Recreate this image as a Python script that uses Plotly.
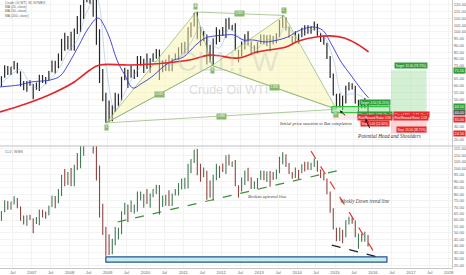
import pandas as pd
import plotly.graph_objects as go
from plotly.subplots import make_subplots

# ---------------- data (monthly) ----------------
dates = [d.strftime("%Y-%m-%d") for d in
         pd.date_range("2006-03-01", "2015-11-01", freq="MS") + pd.Timedelta(days=14)]

closes = [66.6, 71.9, 71.3, 74.0, 74.4, 70.3, 62.9, 58.7, 63.1, 61.0,
          58.1, 61.8, 65.9, 65.7, 64.0, 70.7, 78.2, 74.0, 81.7, 94.5, 88.7, 96.0,
          91.8, 101.8, 101.6, 113.5, 127.4, 140.0, 124.1, 115.5, 100.6, 67.8, 54.4, 44.6,
          41.7, 44.8, 49.7, 51.1, 66.3, 69.9, 69.5, 70.0, 70.6, 77.0, 77.3, 79.4,
          72.9, 79.7, 83.8, 86.2, 74.0, 75.6, 79.0, 71.9, 80.0, 81.4, 84.1, 91.4,
          92.2, 97.0, 106.7, 113.9, 102.7, 95.4, 95.7, 88.8, 79.2, 93.2, 100.4, 98.8,
          98.5, 107.1, 103.0, 104.9, 86.5, 85.0, 88.1, 96.5, 92.2, 86.2, 88.9, 91.8,
          97.5, 92.0, 97.2, 93.5, 92.0, 96.6, 105.0, 107.7, 102.3, 96.4, 92.7, 98.4,
          97.5, 102.6, 101.6, 99.7, 102.7, 105.4, 98.2, 96.0, 91.2, 80.5, 66.2, 53.3,
          48.2, 49.8, 47.6, 59.6, 60.3, 59.5, 47.1, 49.2, 45.1, 46.6, 40.0]
highs = [67.0, 75.2, 74.6, 74.0, 78.4, 77.0, 70.5, 63.5, 63.6, 64.0,
         61.3, 62.3, 68.1, 67.9, 66.5, 71.0, 78.8, 78.5, 83.9, 94.7, 99.3, 97.0,
         100.1, 102.6, 111.8, 119.9, 135.1, 143.7, 147.3, 127.0, 130.0, 102.0, 72.5, 54.7,
         49.0, 45.5, 54.7, 54.0, 66.7, 73.4, 72.0, 75.0, 72.0, 82.0, 82.0, 80.0,
         83.9, 80.5, 84.0, 87.2, 87.0, 79.0, 79.5, 83.0, 80.5, 84.0, 88.6, 92.0,
         92.6, 103.4, 106.9, 114.0, 114.8, 103.5, 100.6, 98.0, 90.5, 95.0, 103.4, 101.8,
         103.7, 110.0, 110.6, 105.0, 106.4, 86.8, 92.9, 98.3, 100.4, 93.0, 90.0, 92.5,
         98.2, 98.0, 97.5, 97.8, 97.0, 99.0, 108.9, 112.2, 110.7, 104.0, 97.0, 100.5,
         98.5, 103.0, 105.0, 104.9, 104.2, 107.7, 106.0, 99.0, 96.5, 92.0, 82.0, 69.0,
         54.0, 54.2, 52.5, 59.9, 62.6, 61.9, 59.7, 49.4, 49.5, 50.9, 48.4]
lows = [59.5, 66.0, 68.0, 68.0, 72.0, 69.0, 59.5, 56.6, 55.5, 60.0,
        49.9, 57.0, 56.0, 62.0, 61.0, 63.9, 70.0, 69.0, 73.0, 78.6, 86.0, 87.0,
        86.1, 86.0, 98.5, 100.0, 109.5, 122.0, 121.0, 111.3, 90.5, 62.0, 48.5, 32.4,
        33.0, 33.6, 40.5, 45.0, 49.0, 64.0, 58.3, 66.0, 65.0, 66.5, 75.0, 69.5,
        72.4, 69.5, 77.6, 80.0, 64.2, 70.0, 71.0, 70.8, 70.8, 79.0, 79.0, 83.5,
        84.0, 84.4, 96.0, 104.0, 94.6, 89.6, 93.0, 75.7, 77.1, 74.9, 90.6, 92.5,
        97.0, 95.5, 102.0, 101.0, 86.0, 77.3, 82.0, 87.0, 90.0, 84.0, 84.0, 84.0,
        91.0, 90.6, 89.3, 85.6, 90.8, 91.5, 96.0, 103.0, 101.0, 95.6, 91.8, 92.6,
        91.2, 96.0, 97.4, 98.6, 98.6, 101.0, 97.2, 92.5, 90.4, 79.8, 65.7, 52.7,
        43.6, 43.8, 42.0, 46.7, 56.5, 57.1, 46.7, 37.8, 43.2, 43.2, 39.5]
first_open = 61.4
opens = [first_open] + closes[:-1]

# moving averages
ma200_dates = ["2006-03-01", "2006-11-01", "2007-06-15", "2008-02-15", "2008-07-15", "2008-10-15",
               "2009-08-01", "2010-07-15", "2011-03-01", "2011-09-15", "2012-06-15", "2012-12-15",
               "2013-09-15", "2014-01-15", "2014-07-01", "2014-11-15", "2015-04-01", "2015-08-01",
               "2015-11-20"]
ma200_vals = [40.5, 46.4, 53.1, 62.8, 71.7, 75.4, 75.4, 76.9, 79.1, 82.8, 80.6, 85.1,
              88.8, 93.2, 96.2, 97.0, 95.5, 91.0, 85.1]

ma50_dates = ["2006-03-01", "2006-09-01", "2007-01-01", "2007-07-01", "2007-10-01", "2008-01-01",
              "2008-04-01", "2008-07-01", "2008-10-01", "2009-01-01", "2009-04-01", "2009-06-15",
              "2009-09-01", "2009-12-01", "2010-03-01", "2010-07-01", "2010-10-01", "2011-01-01",
              "2011-05-01", "2011-08-01", "2011-11-01", "2012-02-01", "2012-05-01", "2012-08-01",
              "2012-11-01", "2013-03-01", "2013-07-01", "2013-10-01", "2014-02-01", "2014-06-01",
              "2014-09-01", "2014-12-01", "2015-03-01", "2015-06-01", "2015-09-01", "2015-11-20"]
ma50_vals = [59.1, 60.6, 62.8, 64.3, 67.2, 77.6, 90.3, 102.9, 110.3, 99.2, 79.1, 68.0,
             58.3, 62.0, 66.5, 74.7, 79.1, 81.3, 90.3, 95.5, 97.0, 97.7, 97.7, 94.0,
             94.0, 92.5, 94.0, 96.2, 101.4, 103.6, 101.4, 90.3, 77.6, 68.0, 58.3, 50.9]

ma20_dates = ["2006-03-15", "2006-06-15", "2006-09-15", "2006-12-15", "2007-03-15", "2007-06-15",
              "2007-09-15", "2007-12-15", "2008-03-15", "2008-06-15", "2008-09-15", "2008-12-15",
              "2009-03-15", "2009-06-15", "2009-09-15", "2009-12-15", "2010-03-15", "2010-06-15",
              "2010-09-15", "2010-12-15", "2011-03-15", "2011-06-15", "2011-09-15", "2011-12-15",
              "2012-03-15", "2012-06-15", "2012-09-15", "2012-12-15", "2013-03-15", "2013-06-15",
              "2013-09-15", "2013-12-15", "2014-03-15", "2014-06-15", "2014-09-15", "2014-12-15",
              "2015-03-15", "2015-06-15", "2015-09-15", "2015-11-20"]
ma20_vals = [62, 68, 72, 62, 58, 64, 72, 85, 94, 115, 125, 75, 42, 55, 68, 76, 78, 78,
             76, 83, 92, 104, 92, 88, 102, 97, 90, 88, 94, 94, 104, 97, 99, 102, 97, 80,
             53, 54, 52, 46]

# Bat pattern points
bat_names = ["X", "A", "B", "C", "D"]
bat_dates = ["2008-12-19", "2011-05-02", "2011-10-04", "2013-08-28", "2015-01-15"]
bat_prices = [32.4, 114.8, 75.0, 112.2, 42.5]
bat_ratios = ["0.518", "0.925", "1.958", "0.886"]   # XB, AC, BD, XD

# positions
entry = 40.0
left_target, left_stop = 44.5, 35.0
right_target, right_stop = 71.5, 24.5
last_price = 40.0

# bottom-panel drawings
uptrend = (["2009-04-07", "2015-04-05"], [58.5, 99.4])
downtrend = (["2014-05-15", "2016-02-10"], [113.2, 31.5])
lowtrend = (["2014-12-01", "2016-02-15"], [40.7, 31.5])
support_box = (["2008-12-15", "2016-05-15"], [27.6, 31.6])

# ---------------- figure ----------------
fig = make_subplots(rows=2, cols=1, shared_xaxes=True, vertical_spacing=0)

tri_fill = "rgba(250,243,175,0.5)"
tri_line = "rgba(135,180,105,0.95)"
for idx in ([0, 1, 2, 0], [2, 3, 4, 2]):
    fig.add_trace(go.Scatter(x=[bat_dates[i] for i in idx], y=[bat_prices[i] for i in idx],
                             mode="lines", fill="toself", fillcolor=tri_fill,
                             line=dict(color=tri_line, width=0.7), hoverinfo="skip"), 1, 1)
for a, b in ((0, 2), (1, 3), (2, 4), (0, 4)):
    fig.add_trace(go.Scatter(x=[bat_dates[a], bat_dates[b]], y=[bat_prices[a], bat_prices[b]],
                             mode="lines", line=dict(color=tri_line, width=0.7),
                             hoverinfo="skip"), 1, 1)

fig.add_trace(go.Ohlc(x=dates, open=opens, high=highs, low=lows, close=closes,
                      increasing=dict(line=dict(color="#262626", width=1.2)),
                      decreasing=dict(line=dict(color="#262626", width=1.2)),
                      tickwidth=0.2), 1, 1)
fig.add_trace(go.Scatter(x=ma20_dates, y=ma20_vals, mode="lines",
                         line=dict(color="rgba(120,175,225,0.75)", width=0.6, shape="spline")), 1, 1)
fig.add_trace(go.Scatter(x=ma50_dates, y=ma50_vals, mode="lines",
                         line=dict(color="#3535cf", width=0.9, shape="spline")), 1, 1)
fig.add_trace(go.Scatter(x=ma200_dates, y=ma200_vals, mode="lines",
                         line=dict(color="#e3272a", width=1.7, shape="spline")), 1, 1)

fig.add_trace(go.Ohlc(x=dates, open=opens, high=highs, low=lows, close=closes,
                      increasing=dict(line=dict(color="#447a55", width=1.1)),
                      decreasing=dict(line=dict(color="#8e4743", width=1.1)),
                      tickwidth=0.2), 2, 1)

shapes = []
shapes.append(dict(type="line", xref="x domain", x0=0, x1=1, yref="y", y0=last_price, y1=last_price,
                   line=dict(color="#9dbbd9", width=0.8), layer="below"))
# left position
shapes.append(dict(type="rect", xref="x", yref="y", x0="2014-12-01", x1="2016-06-12",
                   y0=entry, y1=left_target, fillcolor="rgba(150,225,150,0.55)",
                   line=dict(color="#33c43f", width=1.2)))
shapes.append(dict(type="rect", xref="x", yref="y", x0="2014-12-01", x1="2016-06-12",
                   y0=left_stop, y1=entry, fillcolor="rgba(255,150,150,0.2)", line=dict(width=0)))
# right position
shapes.append(dict(type="rect", xref="x", yref="y", x0="2016-06-23", x1="2017-06-01",
                   y0=entry, y1=right_target, fillcolor="rgba(170,225,170,0.5)", line=dict(width=0)))
shapes.append(dict(type="rect", xref="x", yref="y", x0="2016-06-23", x1="2017-06-01",
                   y0=right_stop, y1=entry, fillcolor="rgba(255,160,160,0.45)", line=dict(width=0)))
# bottom drawings
shapes.append(dict(type="rect", xref="x2", yref="y2", x0=support_box[0][0], x1=support_box[0][1],
                   y0=support_box[1][0], y1=support_box[1][1], fillcolor="#bff0e4",
                   line=dict(color="#2d4f9e", width=1.2)))
shapes.append(dict(type="line", xref="x2", yref="y2", x0=uptrend[0][0], x1=uptrend[0][1],
                   y0=uptrend[1][0], y1=uptrend[1][1], line=dict(color="#3f8f3a", width=1.2, dash="dash")))
shapes.append(dict(type="line", xref="x2", yref="y2", x0=downtrend[0][0], x1=downtrend[0][1],
                   y0=downtrend[1][0], y1=downtrend[1][1], line=dict(color="#e23a3a", width=1.2, dash="dash")))
shapes.append(dict(type="line", xref="x2", yref="y2", x0=lowtrend[0][0], x1=lowtrend[0][1],
                   y0=lowtrend[1][0], y1=lowtrend[1][1], line=dict(color="#222222", width=1.2, dash="dash")))
shapes.append(dict(type="line", xref="paper", yref="paper", x0=0, x1=1.04, y0=0.4552, y1=0.4552,
                   line=dict(color="#bfbfbf", width=1)))

ann = []
small = "Liberation Sans"
ann.append(dict(text="CL1!, W", xref="paper", yref="y domain", x=0.505, y=0.58, showarrow=False,
                font=dict(family=small, size=28, color="rgba(185,185,185,0.35)")))
ann.append(dict(text="Crude Oil WTI", xref="paper", yref="y domain", x=0.505, y=0.385, showarrow=False,
                font=dict(family=small, size=12.5, color="rgba(185,185,185,0.5)")))
for i, t in enumerate(["Crude Oil WTI, W, NYMEX", "MA (20, close)", "MA (50, close)", "MA (200, close)"]):
    ann.append(dict(text=t, xref="paper", yref="y domain", x=0.006, y=1 - (3 + 4.2 * i) / 146,
                    xanchor="left", yanchor="middle", showarrow=False,
                    font=dict(family=small, size=3.4, color="#666")))
ann.append(dict(text="CL1!, W/BS", xref="paper", yref="y2 domain", x=0.006, y=1 - 6 / 122,
                xanchor="left", yanchor="middle", showarrow=False,
                font=dict(family=small, size=3.4, color="#666")))
offs = [-5, 5, -5, 5, -5]
for n, d, p, o in zip(bat_names, bat_dates, bat_prices, offs):
    ann.append(dict(text=n, x=d, y=p, xref="x", yref="y", yshift=o, showarrow=False,
                    font=dict(family=small, size=3.0, color="white"), bgcolor="#86b96c",
                    borderpad=0.4))
for (a, b), r in zip(((0, 2), (1, 3), (2, 4), (0, 4)), bat_ratios):
    xa, xb = pd.Timestamp(bat_dates[a]), pd.Timestamp(bat_dates[b])
    xm = (xa + (xb - xa) / 2).strftime("%Y-%m-%d")
    ym = (bat_prices[a] + bat_prices[b]) / 2
    ann.append(dict(text=r, x=xm, y=ym, xref="x", yref="y", showarrow=False,
                    font=dict(family=small, size=3.0, color="white"), bgcolor="#86b96c",
                    borderpad=0.4))

def lab(text, x, y, bg, yanchor="middle"):
    ann.append(dict(text=text, x=x, y=y, xref="x", yref="y", yanchor=yanchor, showarrow=False,
                    font=dict(family=small, size=3.0, color="white"), bgcolor=bg, borderpad=0.5))

green, red = "#2e9e3c", "#e8282a"
lab(f"Target: {right_target - entry:.2f} ({(right_target - entry) / entry * 100:.2f}%)",
    "2017-01-05", right_target + 0.6, green, "bottom")
lab("Closed P&L: -0.42, Qty: 1", "2017-01-05", entry - 1.3, red)
lab("Risk/Reward Ratio: 2.03", "2017-01-05", entry - 3.3, red)
lab(f"Stop: {entry - right_stop:.2f} ({(entry - right_stop) / entry * 100:.2f}%)",
    "2017-01-05", right_stop + 0.4, red, "bottom")
lab(f"Target: {left_target - entry:.2f} ({(left_target - entry) / entry * 100:.2f}%)",
    "2016-01-20", left_target + 0.6, green, "bottom")
lab("Closed P&L: 0.58, Qty: 1", "2016-01-20", entry - 1.3, green)
lab("Risk/Reward Ratio: 0.90", "2016-01-20", entry - 3.3, red)
lab(f"Stop: {entry - left_stop:.2f} ({(entry - left_stop) / entry * 100:.2f}%)",
    "2016-01-20", left_stop - 0.4, red, "top")
for v, bg in ((right_target, green), (left_target, green), (last_price, "#5a5a5a"),
              (left_stop, red), (right_stop, red)):
    ann.append(dict(text=f"{v:.2f}", xref="paper", yref="y", x=1.0, xshift=1, y=v,
                    xanchor="left", showarrow=False, bgcolor=bg, borderpad=0.6,
                    font=dict(family=small, size=3.8, color="white")))

serif = "Liberation Serif"
ann.append(dict(text="<i>Initial price reaction to Bat completion</i>", x="2014-07-01", y=32.3,
                xref="x", yref="y", showarrow=False, font=dict(family=serif, size=4.6, color="#333")))
ann.append(dict(text="<i>Potential Head and Shoulders</i>", x="2016-06-01", y=22.6,
                xref="x", yref="y", showarrow=False, font=dict(family=serif, size=5.2, color="#333")))
ann.append(dict(text="", x="2015-02-15", y=41.5, xref="x", yref="y", ax=7, ay=6,
                showarrow=True, arrowhead=2, arrowsize=0.6, arrowwidth=1, arrowcolor="#222"))
ann.append(dict(text="", x="2015-10-20", y=35.5, xref="x", yref="y", ax=5, ay=11,
                showarrow=True, arrowhead=2, arrowsize=0.6, arrowwidth=1, arrowcolor="#222"))
ann.append(dict(text="<i>Broken uptrend line</i>", x="2013-03-25", y=78.5, xref="x2", yref="y2",
                showarrow=False, font=dict(family=serif, size=4.8, color="#444")))
ann.append(dict(text="<i>Weekly Down trend line</i>", x="2015-10-15", y=74.7, xref="x2", yref="y2",
                showarrow=False, font=dict(family=serif, size=5.2, color="#444")))

tickvals, ticktext = [], []
for y in range(2006, 2018):
    if y >= 2007:
        tickvals.append(f"{y}-01-01"); ticktext.append(str(y))
    tickvals.append(f"{y}-07-01"); ticktext.append("Jul")
tickvals.append("2018-01-01"); ticktext.append("2018")

xr = ["2006-03-01", "2018-02-01"]
fig.update_xaxes(range=xr, rangeslider_visible=False, showgrid=True, gridcolor="#f3f3f3",
                 tickvals=tickvals, ticktext=ticktext, zeroline=False)
fig.update_xaxes(showticklabels=False, row=1, col=1)
fig.update_xaxes(showticklabels=True, tickfont=dict(family=small, size=4.2, color="#666"),
                 showline=True, linecolor="#c8c8c8", ticks="", row=2, col=1)
fig.update_yaxes(side="right", dtick=5, tickformat=".2f", showgrid=True, gridcolor="#f3f3f3",
                 tickfont=dict(family=small, size=4.1, color="#666"), showline=True,
                 linecolor="#c8c8c8", zeroline=False, ticks="")
fig.update_yaxes(range=[15.2, 123.7], domain=[0.4552, 1], row=1, col=1)
fig.update_yaxes(range=[23.0, 117.1], domain=[0, 0.4552], row=2, col=1)

fig.update_layout(width=466, height=275, margin=dict(l=0, r=14, t=0, b=7),
                  paper_bgcolor="white", plot_bgcolor="white", showlegend=False,
                  shapes=shapes, annotations=ann)
fig.write_html("out.html")
